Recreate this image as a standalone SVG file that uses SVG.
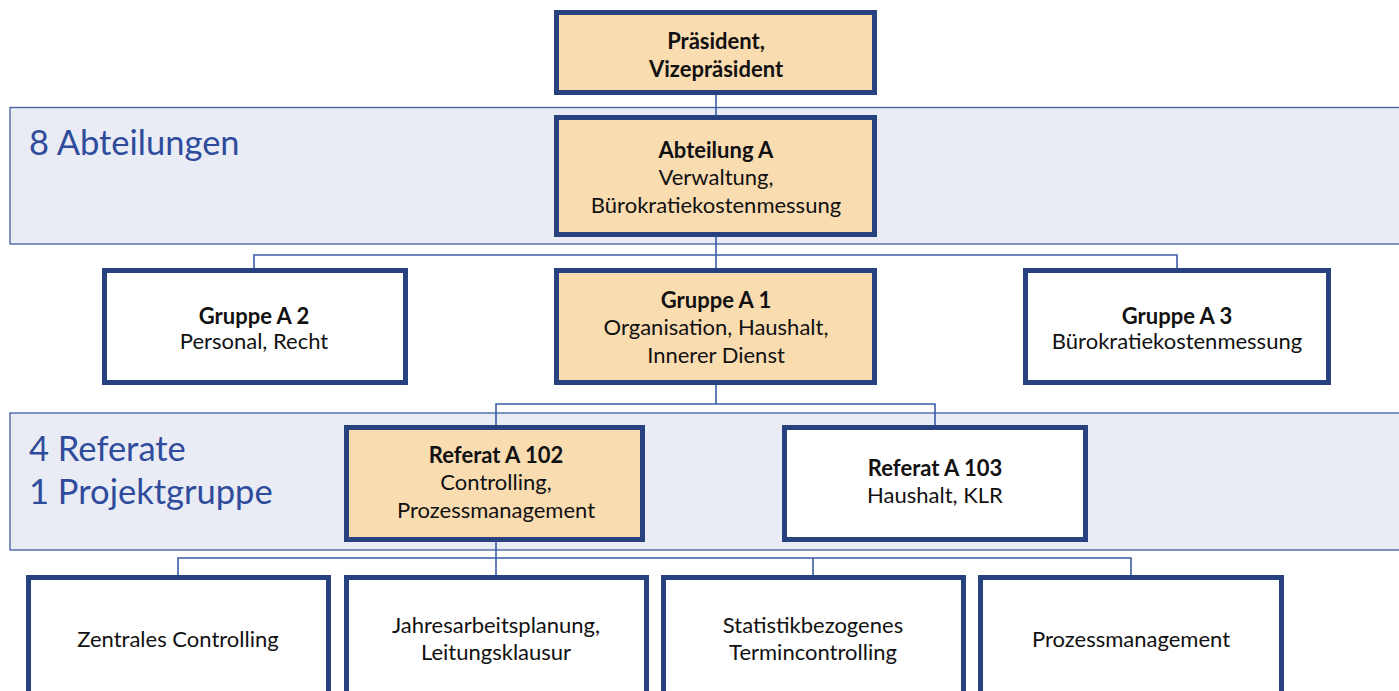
<svg xmlns="http://www.w3.org/2000/svg" width="1399" height="691" viewBox="0 0 1399 691">
  <style>
    .band { fill: #e9ecf5; stroke: #3f5fa3; stroke-width: 1.3; }
    .band-label { font-family: Lato, "Liberation Sans", sans-serif; font-size: 34.5px; fill: #2f4b9c; }
    .box { stroke: #27427f; stroke-width: 5; }
    .hi { fill: #fadcb1; }
    .lo { fill: #ffffff; }
    .t { font-family: Lato, "Liberation Sans", sans-serif; font-size: 22px; fill: #111111; text-anchor: middle; }
    .b { font-weight: bold; }
    .conn { fill: none; stroke: #3b5ca6; stroke-width: 1.6; }
  </style>

  <rect width="1399" height="691" fill="#ffffff"/>

  <!-- level bands -->
  <g id="band-abteilungen">
    <rect class="band" x="10" y="107.5" width="1395" height="136.5"/>
    <text class="band-label" x="29" y="155">8 Abteilungen</text>
  </g>
  <g id="band-referate">
    <rect class="band" x="10" y="413" width="1395" height="137"/>
    <text class="band-label" x="29" y="461">4 Referate</text>
    <text class="band-label" x="29" y="504">1 Projektgruppe</text>
  </g>

  <!-- connectors -->
  <g id="connectors">
    <path class="conn" d="M716 95 V115"/>
    <path class="conn" d="M716 236 V255 M254 270 V255 H1177 V270 M716 255 V270"/>
    <path class="conn" d="M716 384 V404 M496 427 V404 H935 V427"/>
    <path class="conn" d="M496 541 V558 M178 577 V558 H1131 V577 M496 558 V577 M813 558 V577"/>
  </g>

  <!-- nodes -->
  <g id="praesident">
    <rect class="box hi" x="556.5" y="12.5" width="318" height="80"/>
    <text class="t b" x="716" y="49">Präsident,</text>
    <text class="t b" x="716" y="77">Vizepräsident</text>
  </g>
  <g id="abteilung-a">
    <rect class="box hi" x="556.5" y="117.5" width="318" height="117"/>
    <text class="t b" x="716" y="158">Abteilung A</text>
    <text class="t" x="716" y="185">Verwaltung,</text>
    <text class="t" x="716" y="213">Bürokratiekostenmessung</text>
  </g>
  <g id="gruppe-a2">
    <rect class="box lo" x="104.5" y="270.5" width="301" height="112"/>
    <text class="t b" x="254" y="324">Gruppe A 2</text>
    <text class="t" x="254" y="349">Personal, Recht</text>
  </g>
  <g id="gruppe-a1">
    <rect class="box hi" x="556.5" y="270.5" width="318" height="112"/>
    <text class="t b" x="716" y="308">Gruppe A 1</text>
    <text class="t" x="716" y="335">Organisation, Haushalt,</text>
    <text class="t" x="716" y="363">Innerer Dienst</text>
  </g>
  <g id="gruppe-a3">
    <rect class="box lo" x="1025.5" y="270.5" width="303" height="112"/>
    <text class="t b" x="1177" y="324">Gruppe A 3</text>
    <text class="t" x="1177" y="349">Bürokratiekostenmessung</text>
  </g>
  <g id="referat-a102">
    <rect class="box hi" x="346.5" y="427.5" width="296" height="112"/>
    <text class="t b" x="496" y="463">Referat A 102</text>
    <text class="t" x="496" y="490">Controlling,</text>
    <text class="t" x="496" y="518">Prozessmanagement</text>
  </g>
  <g id="referat-a103">
    <rect class="box lo" x="784.5" y="427.5" width="301" height="112"/>
    <text class="t b" x="935" y="476">Referat A 103</text>
    <text class="t" x="935" y="503">Haushalt, KLR</text>
  </g>
  <g id="zentrales-controlling">
    <rect class="box lo" x="28.5" y="577.5" width="300" height="130"/>
    <text class="t" x="178" y="647">Zentrales Controlling</text>
  </g>
  <g id="jahresarbeitsplanung">
    <rect class="box lo" x="346.5" y="577.5" width="300" height="130"/>
    <text class="t" x="496" y="633">Jahresarbeitsplanung,</text>
    <text class="t" x="496" y="660">Leitungsklausur</text>
  </g>
  <g id="termincontrolling">
    <rect class="box lo" x="663.5" y="577.5" width="300" height="130"/>
    <text class="t" x="813" y="633">Statistikbezogenes</text>
    <text class="t" x="813" y="660">Termincontrolling</text>
  </g>
  <g id="prozessmanagement">
    <rect class="box lo" x="980.5" y="577.5" width="301" height="130"/>
    <text class="t" x="1131" y="647">Prozessmanagement</text>
  </g>
</svg>
